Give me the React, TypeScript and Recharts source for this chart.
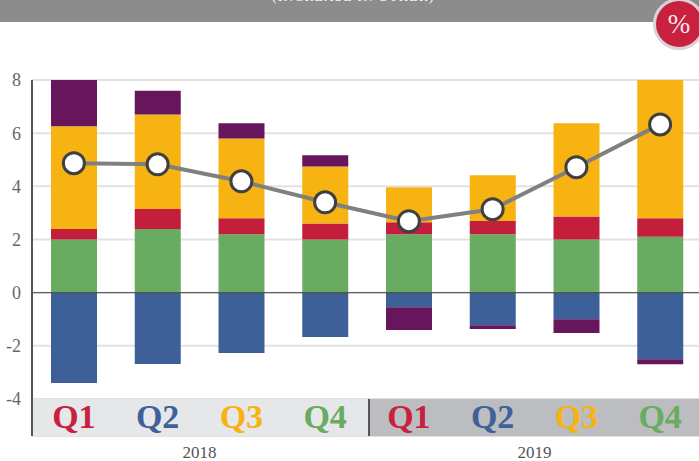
import { ComposedChart, Bar, Line, XAxis, YAxis, CartesianGrid, ReferenceArea, ReferenceLine } from 'recharts'

const quarters = ['Q1', 'Q2', 'Q3', 'Q4', 'Q1 ', 'Q2 ', 'Q3 ', 'Q4 ']
const years = ['2018', '2018', '2018', '2018', '2019', '2019', '2019', '2019']
const green = [2.0, 2.4, 2.2, 2.0, 2.2, 2.2, 2.0, 2.1]
const red = [0.4, 0.75, 0.6, 0.6, 0.45, 0.5, 0.87, 0.7]
const yellow = [3.86, 3.55, 3.0, 2.15, 1.32, 1.72, 3.5, 5.2]
const purple = [1.74, 0.9, 0.57, 0.42, -0.85, -0.15, -0.52, -0.19]
const blue = [-3.4, -2.68, -2.27, -1.67, -0.55, -1.22, -1.0, -2.5]
const total = [4.87, 4.83, 4.19, 3.4, 2.69, 3.14, 4.72, 6.33]
const yTicks = [-4, -2, 0, 2, 4, 6, 8]

const quarterColors: Record<string, string> = { Q1: '#c8203f', Q2: '#3e6199', Q3: '#f6b312', Q4: '#68ab61' }

const data = quarters.map((q, i) => ({
  q,
  year: years[i],
  green: green[i],
  red: red[i],
  yellow: yellow[i],
  purple: purple[i],
  blue: blue[i],
  total: total[i],
}))

const serif = '"Liberation Serif", serif'

// the two halves meet a little right of the band edge, with a dark divider there
function LeftBand({ x, y, width, height }: any) {
  return <rect x={x} y={y} width={width + 2} height={height} fill="#e6e7e8" />
}

function RightBand({ x, y, width, height }: any) {
  return (
    <g>
      <rect x={x + 2} y={y} width={width} height={height} fill="#bcbdc0" />
      <line x1={x + 2} x2={x + 2} y1={y} y2={y + height} stroke="#555" strokeWidth={2} />
    </g>
  )
}

export default function App() {
  return (
    <div style={{ position: 'fixed', left: 0, top: 0, width: 699, height: 461, overflow: 'hidden', background: '#fff' }}>
      <div style={{ position: 'absolute', left: 0, top: 0, width: 699, height: 22, background: '#8c8c8c', overflow: 'hidden' }}>
        <div style={{ position: 'absolute', left: 8, right: 0, top: -11, textAlign: 'center', color: '#fff', fontFamily: serif, fontSize: 13, letterSpacing: 1.4 }}>
          (INCREASE IN OTHER)
        </div>
      </div>
      <ComposedChart width={702} height={461} data={data} stackOffset="sign" barCategoryGap={19}
        margin={{ top: 80, right: 0, bottom: 0, left: 0 }} style={{ position: 'absolute', left: 0, top: 0 }}>
        <CartesianGrid horizontal vertical={false} stroke="#e2e2e2" strokeWidth={2} />
        <ReferenceArea xAxisId="q" x1="Q1" x2="Q4" y1={-5.39} y2={-4} shape={<LeftBand />} />
        <ReferenceArea xAxisId="q" x1="Q1 " x2="Q4 " y1={-5.39} y2={-4} shape={<RightBand />} />
        {quarters.map((q) => (
          <ReferenceLine key={q} xAxisId="q" x={q} stroke="none" label={{
            value: q.trim(),
            position: 'insideBottom',
            offset: 8,
            fill: quarterColors[q.trim()],
            fontFamily: serif,
            fontWeight: 'bold',
            fontSize: 34,
          }} />
        ))}
        <XAxis xAxisId="q" dataKey="q" axisLine={false} tickLine={false} tick={false} height={0} interval={0} />
        <XAxis xAxisId="year" dataKey="year" allowDuplicatedCategory={false} axisLine={false} tickLine={false} height={25}
          tick={{ fontFamily: serif, fontSize: 17, fill: '#555' }} tickMargin={4} />
        <YAxis width={32} domain={[-5.39, 8]} ticks={yTicks} allowDataOverflow interval={0} tickLine={false}
          axisLine={{ stroke: '#555', strokeWidth: 2 }} tick={{ fontFamily: serif, fontSize: 18, fill: '#666' }} tickMargin={5} />
        <Bar xAxisId="q" dataKey="green" stackId="a" fill="#68ab61" isAnimationActive={false} />
        <Bar xAxisId="q" dataKey="red" stackId="a" fill="#c41e3d" isAnimationActive={false} />
        <Bar xAxisId="q" dataKey="yellow" stackId="a" fill="#f6b312" isAnimationActive={false} />
        <Bar xAxisId="q" dataKey="blue" stackId="a" fill="#3d6098" isAnimationActive={false} />
        <Bar xAxisId="q" dataKey="purple" stackId="a" fill="#67165c" isAnimationActive={false} />
        <ReferenceLine xAxisId="q" y={0} stroke="#444" strokeWidth={1} />
        <Line xAxisId="q" dataKey="total" stroke="#808080" strokeWidth={4} type="linear" isAnimationActive={false}
          dot={{ r: 10.5, fill: '#fff', stroke: '#404040', strokeWidth: 3 }} />
      </ComposedChart>
      <div style={{ position: 'absolute', left: 653, top: -2, width: 46, height: 46, borderRadius: '50%', background: '#c8203f', border: '3px solid #d5d5d5', color: '#f4e6e6', fontFamily: serif, fontSize: 27, lineHeight: '46px', textAlign: 'center' }}>
        %
      </div>
    </div>
  )
}
